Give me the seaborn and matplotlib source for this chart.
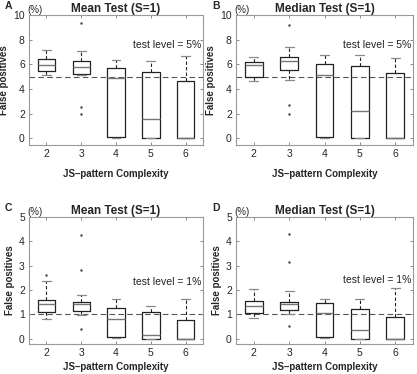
import matplotlib
matplotlib.use("Agg")
import matplotlib.pyplot as plt
import seaborn as sns
import numpy as np

sns.set_theme(style="ticks")
plt.rcParams['font.family'] = ['Liberation Sans', 'DejaVu Sans']

complexity = [2, 3, 4, 5, 6]

# panel A: mean test, 5% level
a_whislo = [5.1, 5.15, 0.05, 0.0, 0.0]
a_q1 = [5.45, 5.23, 0.13, 0.0, 0.0]
a_med = [5.93, 5.75, 4.85, 1.54, 0.0]
a_q3 = [6.42, 6.23, 5.66, 5.37, 4.66]
a_whishi = [7.13, 7.05, 6.37, 6.23, 6.64]
a_fliers = [[], [9.35, 2.57, 1.98], [], [], []]

# panel B: median test, 5% level
b_whislo = [4.66, 4.74, 0.05, 0.0, 0.0]
b_q1 = [4.96, 5.56, 0.13, 0.0, 0.0]
b_med = [5.93, 6.23, 5.15, 2.17, 0.0]
b_q3 = [6.18, 6.59, 6.02, 5.83, 5.28]
b_whishi = [6.56, 7.37, 6.78, 6.72, 6.5]
b_fliers = [[], [9.2, 2.66, 1.98], [], [], []]

# panel C: mean test, 1% level
c_whislo = [0.8, 0.98, 0.03, 0.0, 0.0]
c_q1 = [1.10, 1.15, 0.07, 0.0, 0.0]
c_med = [1.42, 1.42, 0.81, 0.16, 0.0]
c_q3 = [1.59, 1.52, 1.27, 1.11, 0.75]
c_whishi = [2.37, 1.79, 1.61, 1.34, 1.61]
c_fliers = [[2.6], [4.25, 2.83, 0.41], [], [], []]

# panel D: median test, 1% level
d_whislo = [0.84, 1.02, 0.02, 0.0, 0.0]
d_q1 = [1.04, 1.18, 0.05, 0.0, 0.0]
d_med = [1.34, 1.42, 1.04, 0.37, 0.0]
d_q3 = [1.56, 1.52, 1.45, 1.2, 0.91]
d_whishi = [2.05, 1.95, 1.61, 1.65, 2.09]
d_fliers = [[], [4.3, 3.17, 0.53], [], [], []]

panels = [
    ("A", "Mean Test (S=1)", 5, "test level = 5%", 7.6, (-0.55, 10), [0, 2, 4, 6, 8, 10],
     a_whislo, a_q1, a_med, a_q3, a_whishi, a_fliers),
    ("B", "Median Test (S=1)", 5, "test level = 5%", 7.6, (-0.55, 10), [0, 2, 4, 6, 8, 10],
     b_whislo, b_q1, b_med, b_q3, b_whishi, b_fliers),
    ("C", "Mean Test (S=1)", 1, "test level = 1%", 2.33, (-0.22, 5), [0, 1, 2, 3, 4, 5],
     c_whislo, c_q1, c_med, c_q3, c_whishi, c_fliers),
    ("D", "Median Test (S=1)", 1, "test level = 1%", 2.4, (-0.22, 5), [0, 1, 2, 3, 4, 5],
     d_whislo, d_q1, d_med, d_q3, d_whishi, d_fliers),
]

W, H = 417, 374
fig = plt.figure(figsize=(W / 100, H / 100), dpi=100)
fig.patch.set_facecolor("white")

# axes boxes in pixels: left, top, right, bottom
boxes = [(29, 15, 203, 145), (236, 15, 413, 145),
         (29, 217, 203, 344), (236, 217, 413, 344)]

for (letter, title, level, lvl_txt, lvl_y, ylim, yticks,
     wlo, q1, med, q3, whi, fl), (l, t, r, b) in zip(panels, boxes):
    ax = fig.add_axes([l / W, 1 - b / H, (r - l) / W, (b - t) / H])
    stats = []
    for i in range(len(complexity)):
        stats.append(dict(whislo=wlo[i], q1=q1[i], med=med[i], q3=q3[i],
                          whishi=whi[i], fliers=fl[i], label=str(complexity[i])))
    ax.bxp(stats, positions=complexity, widths=0.5, showfliers=True,
           boxprops=dict(color="#222222", linewidth=0.9),
           medianprops=dict(color="#777777", linewidth=1.0),
           whiskerprops=dict(color="#222222", linewidth=0.8, linestyle=(0, (3, 2))),
           capprops=dict(color="#888888", linewidth=0.9),
           flierprops=dict(marker=".", markersize=1.5, markerfacecolor="#444444",
                           markeredgecolor="#444444", linestyle="none"))
    ax.axhline(level, color="#555555", linewidth=0.8, linestyle=(0, (5, 3)), zorder=0)
    ax.set_xlim(1.5, 6.5)
    ax.set_ylim(*ylim)
    ax.set_yticks(yticks)
    ax.set_xticks(complexity)
    ax.set_xticklabels([str(c) for c in complexity])
    ax.set_facecolor("white")
    for s in ax.spines.values():
        s.set_color("#999999")
        s.set_linewidth(0.8)
    ax.tick_params(direction="in", length=2.5, width=0.6, color="#777777",
                   labelsize=7.5, top=True, right=True, pad=3)
    ax.text(6.45, lvl_y, lvl_txt, ha="right", va="center", fontsize=7.5, color="#222222")
    ax.set_title(title, fontsize=8.5, fontweight="bold", pad=2)
    ax.set_ylabel("False positives", fontsize=7, fontweight="bold", labelpad=3)
    ax.set_xlabel("JS\u2013pattern Complexity", fontsize=7, fontweight="bold",
                  labelpad=7 if letter in "AB" else 3)
    ax.text(-0.01, 1.0, "(%)", transform=ax.transAxes, fontsize=7, ha="left", va="bottom")
    fig.text((l - 24) / W, 1 - (t - 9) / H, letter, fontsize=7.5, fontweight="bold",
             ha="left", va="center")

fig.savefig("out.png", dpi=100)
